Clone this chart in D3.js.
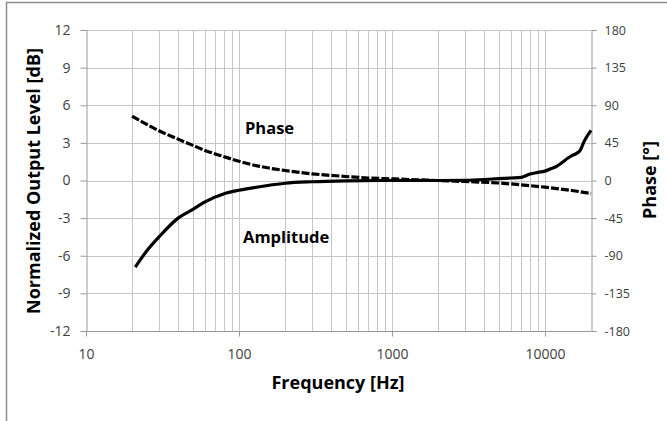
<!DOCTYPE html>
<html>
<head>
<meta charset="utf-8">
<script src="https://cdn.jsdelivr.net/npm/d3@7"></script>
<style>
  body { margin: 0; background: #fff; }
  svg { display: block; font-family: "Open Sans", Lato, sans-serif; }
</style>
</head>
<body>
<svg width="667" height="421"></svg>
<script>
// amplitude response (dB) vs frequency (Hz)
var ampFreq = [21, 25, 30, 40, 50, 60, 80, 100, 150, 200, 300, 500, 1000, 2000, 3000, 4000, 5000, 6000, 7000, 8000, 9000, 10000, 11000, 12000, 13000, 14000, 15000, 16000, 17000, 18000, 20000];
var ampDb = [-6.9, -5.6, -4.5, -3.0, -2.3, -1.7, -1.05, -0.78, -0.42, -0.22, -0.1, -0.03, 0, 0, 0.02, 0.08, 0.15, 0.2, 0.25, 0.52, 0.65, 0.75, 0.95, 1.15, 1.45, 1.75, 1.98, 2.15, 2.4, 3.1, 4.0];

// phase response (degrees)
var phaseFreq = [20, 25, 30, 40, 50, 60, 80, 100, 150, 200, 300, 500, 700, 1000, 1500, 2000, 3000, 5000, 7000, 10000, 15000, 20000];
var phaseDeg = [77, 67, 59.5, 49.5, 42, 36, 28.5, 23, 15.5, 12, 8, 4.8, 3, 2, 0.8, 0, -1.2, -3, -5.2, -8, -12, -15.5];

var dbTicks = [-12, -9, -6, -3, 0, 3, 6, 9, 12];
var degTicks = [-180, -135, -90, -45, 0, 45, 90, 135, 180];
var freqTicks = [10, 100, 1000, 10000];

var svg = d3.select('svg');

var plot = {l: 86, r: 591, t: 30, b: 331};

var x = d3.scaleLog().domain([10, 20000]).range([plot.l, plot.r]);
var yL = d3.scaleLinear().domain([-12, 12]).range([plot.b, plot.t]);
var yR = d3.scaleLinear().domain([-180, 180]).range([plot.b, plot.t]);

// plain hyphen for negatives, like the original
var fmt = function(d) { return String(d); };

// outer chart frame
svg.append('rect')
  .attr('x', 6.5).attr('y', 2.5)
  .attr('width', 720).attr('height', 440)
  .attr('fill', 'none')
  .attr('stroke', '#8c8c8c')
  .attr('stroke-width', 1.5);

// minor vertical grid (every 1..9 x decade)
var gridFreqs = [];
[10, 100, 1000, 10000].forEach(function(d) {
  for (var m = 1; m <= 9; m++) {
    var f = m * d;
    if (f > 10 && f < 20000) gridFreqs.push(f);
  }
});

svg.append('g').selectAll('line')
  .data(gridFreqs)
  .enter().append('line')
  .attr('x1', function(d) { return Math.round(x(d)) + 0.5; })
  .attr('x2', function(d) { return Math.round(x(d)) + 0.5; })
  .attr('y1', plot.t).attr('y2', plot.b)
  .attr('stroke', '#c6c6c6');

svg.append('g').selectAll('line')
  .data(dbTicks.filter(function(d) { return d > -12; }))
  .enter().append('line')
  .attr('x1', plot.l).attr('x2', plot.r)
  .attr('y1', function(d) { return Math.round(yL(d)) + 0.5; })
  .attr('y2', function(d) { return Math.round(yL(d)) + 0.5; })
  .attr('stroke', '#c6c6c6');

// axes
var axisColor = '#9a9a9a';
var textColor = '#404040';

var left = svg.append('g').attr('transform', 'translate(' + (plot.l + 0.5) + ',0)')
  .call(d3.axisLeft(yL).tickValues(dbTicks).tickSize(6).tickPadding(10).tickFormat(fmt));
var right = svg.append('g').attr('transform', 'translate(' + (plot.r + 0.5) + ',0)')
  .call(d3.axisRight(yR).tickValues(degTicks).tickSize(5).tickPadding(8).tickFormat(fmt));
var bottom = svg.append('g').attr('transform', 'translate(0,' + (plot.b + 0.5) + ')')
  .call(d3.axisBottom(x).tickValues(freqTicks).tickSize(5).tickPadding(13).tickFormat(fmt));

[left, right, bottom].forEach(function(g) {
  g.select('.domain').attr('stroke', axisColor);
  g.selectAll('.tick line').attr('stroke', axisColor);
  g.selectAll('.tick text')
    .attr('fill', textColor)
    .style('font-family', '"Open Sans", sans-serif')
    .style('font-size', '14px');
});
right.selectAll('.tick text').style('font-size', '12.5px');
bottom.select('.domain').attr('d', 'M' + plot.l + ',0H' + plot.r);

// curves
var ampLine = d3.line()
  .x(function(d, i) { return x(ampFreq[i]); })
  .y(function(d) { return yL(d); })
  .curve(d3.curveMonotoneX);

var phaseLine = d3.line()
  .x(function(d, i) { return x(phaseFreq[i]); })
  .y(function(d) { return yR(d); })
  .curve(d3.curveMonotoneX);

svg.append('path')
  .datum(phaseDeg)
  .attr('d', phaseLine)
  .attr('fill', 'none')
  .attr('stroke', '#000')
  .attr('stroke-width', 3.2)
  .attr('stroke-dasharray', '8,2');

svg.append('path')
  .datum(ampDb)
  .attr('d', ampLine)
  .attr('fill', 'none')
  .attr('stroke', '#000')
  .attr('stroke-width', 3.2);

// in-plot labels
svg.append('text')
  .attr('x', 245).attr('y', 134)
  .style('font-weight', 'bold').style('font-size', '16.5px')
  .attr('fill', '#000')
  .text('Phase');

svg.append('text')
  .attr('x', 243).attr('y', 243)
  .style('font-weight', 'bold').style('font-size', '16.5px')
  .attr('fill', '#000')
  .text('Amplitude');

// axis titles
svg.append('text')
  .attr('transform', 'translate(40,181) rotate(-90)')
  .attr('text-anchor', 'middle')
  .style('font-weight', 'bold').style('font-size', '18px')
  .text('Normalized Output Level [dB]');

svg.append('text')
  .attr('transform', 'translate(656,180) rotate(-90)')
  .attr('text-anchor', 'middle')
  .style('font-weight', 'bold').style('font-size', '18px')
  .text('Phase [°]');

svg.append('text')
  .attr('x', 338).attr('y', 389)
  .attr('text-anchor', 'middle')
  .style('font-weight', 'bold').style('font-size', '18px')
  .text('Frequency [Hz]');
</script>
</body>
</html>
